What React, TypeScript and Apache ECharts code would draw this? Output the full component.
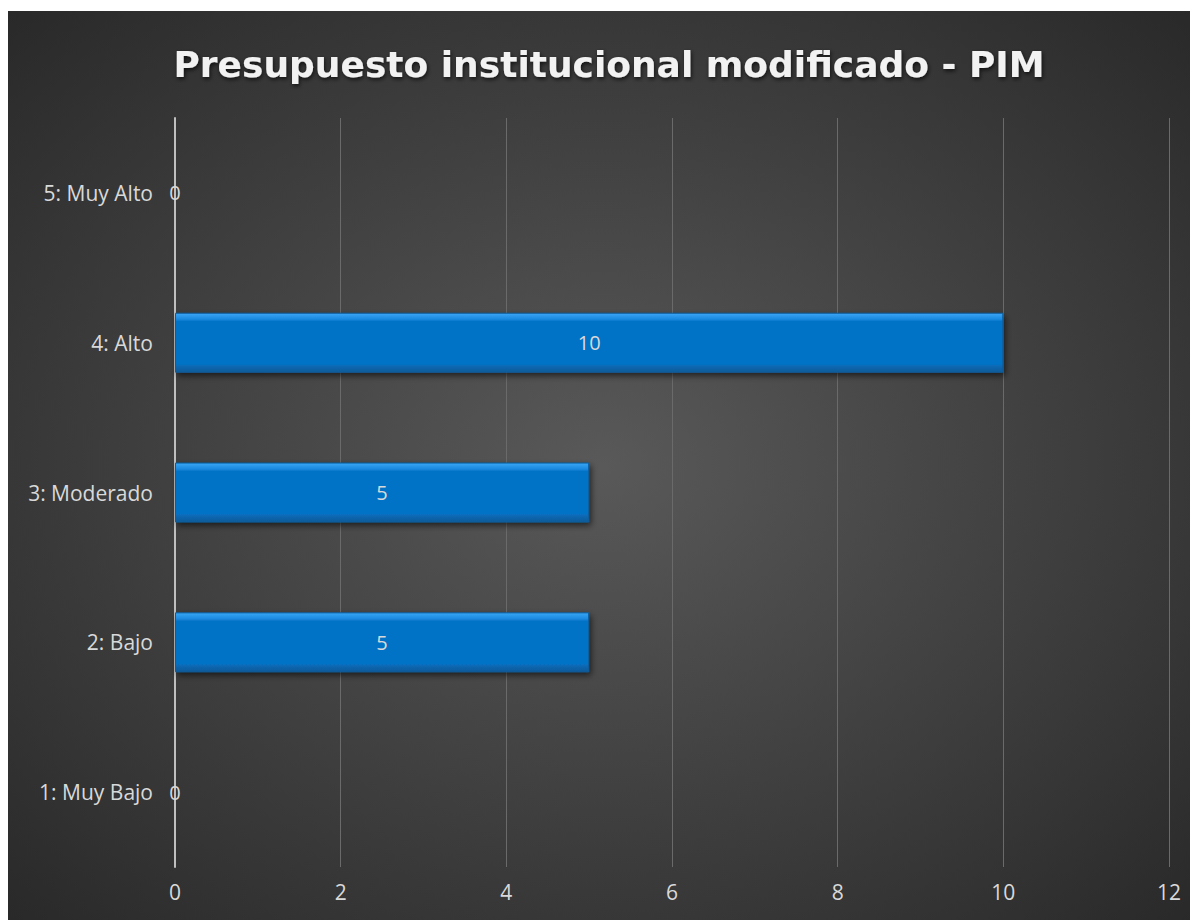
import React, { useEffect, useRef } from "react";
import * as echarts from "echarts";

const categories = ["1: Muy Bajo", "2: Bajo", "3: Moderado", "4: Alto", "5: Muy Alto"];
const values = [0, 5, 5, 10, 0];
const xTicks = [0, 2, 4, 6, 8, 10, 12];
const titleText = "Presupuesto institucional modificado - PIM";

export default function App() {
  const ref = useRef<HTMLDivElement>(null);
  useEffect(() => {
    if (!ref.current) return;
    const chart = echarts.init(ref.current, null, { renderer: "svg" });
    chart.setOption({
      animation: false,
      backgroundColor: {
        type: "radial",
        x: 0.5,
        y: 0.5,
        r: 0.75,
        colorStops: [
          { offset: 0, color: "#595959" },
          { offset: 1, color: "#262626" },
        ],
      },
      title: {
        text: titleText,
        left: 596,
        textAlign: "center",
        top: 30,
        textStyle: {
          color: "#f2f2f2",
          fontSize: 36,
          fontWeight: "bold",
          fontFamily: "DejaVu Sans",
          textShadowColor: "rgba(0,0,0,0.7)",
          textShadowBlur: 4,
          textShadowOffsetX: 1,
          textShadowOffsetY: 2,
        },
      },
      grid: { left: 167, right: 29, top: 107, bottom: 53, containLabel: false },
      xAxis: {
        type: "value",
        min: xTicks[0],
        max: xTicks[xTicks.length - 1],
        interval: 2,
        axisLine: { show: false },
        axisTick: { show: false },
        axisLabel: { color: "#d9d9d9", fontSize: 21, fontFamily: "Open Sans", margin: 14 },
        splitLine: { lineStyle: { color: "#6a6a6a", width: 1 } },
      },
      yAxis: {
        type: "category",
        data: categories,
        axisLine: { show: true, lineStyle: { color: "#bfbfbf", width: 2 } },
        axisTick: { show: false },
        axisLabel: { color: "#d9d9d9", fontSize: 21, fontFamily: "Open Sans", margin: 22 },
      },
      series: [
        {
          type: "bar",
          data: values,
          barWidth: "40%",
          itemStyle: {
            color: {
              type: "linear",
              x: 0,
              y: 0,
              x2: 0,
              y2: 1,
              colorStops: [
                { offset: 0, color: "#3ba6f5" },
                { offset: 0.1, color: "#1a8ae0" },
                { offset: 0.14, color: "#0573c6" },
                { offset: 0.86, color: "#0573c6" },
                { offset: 0.9, color: "#0968b3" },
                { offset: 1, color: "#0b5a98" },
              ],
            },
            borderColor: "#0a5d9e",
            borderWidth: 1,
            shadowColor: "rgba(0,0,0,0.6)",
            shadowBlur: 6,
            shadowOffsetX: 2,
            shadowOffsetY: 3,
          },
          label: {
            show: true,
            position: "inside",
            color: "#d9d9d9",
            fontSize: 20,
            fontFamily: "Open Sans",
          },
        },
      ],
    });
    return () => chart.dispose();
  }, []);
  return <div ref={ref} style={{ width: 1190, height: 909, marginTop: 3 }} />;
}
